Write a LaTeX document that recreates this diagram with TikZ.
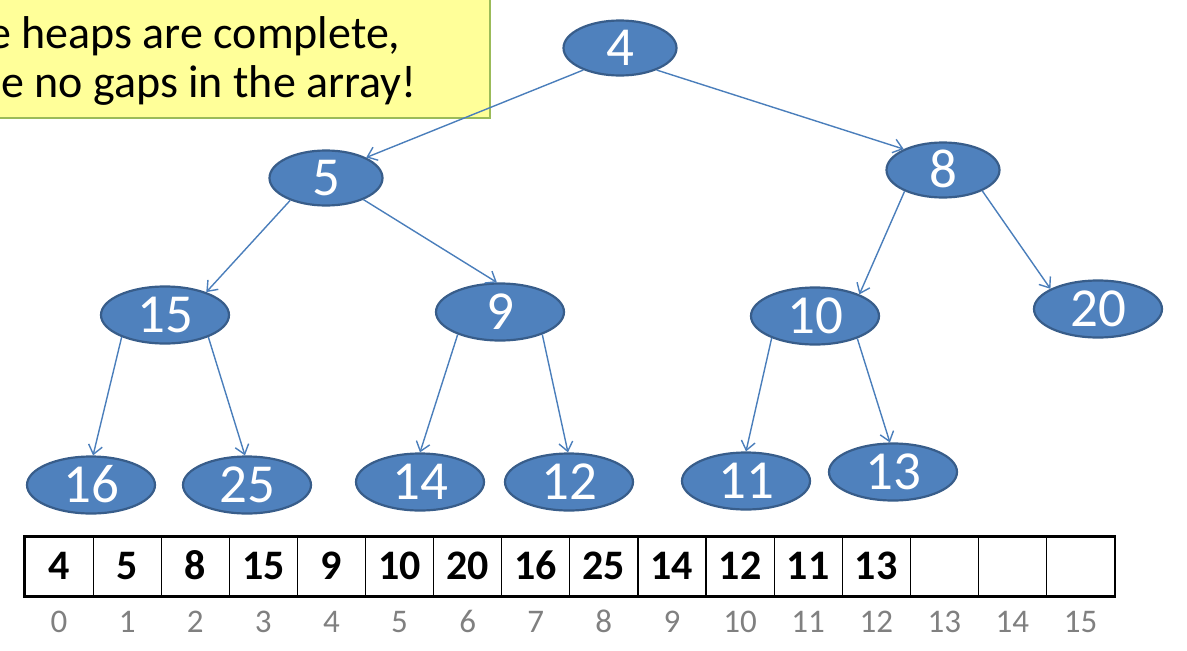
\documentclass[tikz,border=0pt]{standalone}
\usepackage{fontspec}
\setmainfont{Carlito}
\usetikzlibrary{shapes.geometric,arrows.meta}
\definecolor{nodefill}{HTML}{4F81BD}
\definecolor{nodeline}{HTML}{385D8A}
\definecolor{linkcol}{HTML}{4A7EBB}
\definecolor{notefill}{HTML}{FFFF99}
\definecolor{noteline}{HTML}{9BBB59}
\definecolor{idxgray}{HTML}{808080}
\begin{document}
\begin{tikzpicture}[x=1pt,y=-1pt,
  heapnode/.style={ellipse, fill=nodefill, draw=nodeline, line width=2.2pt,
    minimum width=128pt, minimum height=57pt, inner sep=0pt, text=white,
    text height=34.7pt, text depth=0pt,
    font=\fontsize{55}{55}\selectfont},
  upper/.style={heapnode, minimum width=113pt, minimum height=55pt},
  link/.style={draw=linkcol, line width=1.4pt, -{Straight Barb[length=9pt,width=14pt]}},
  cell/.style={draw=black, line width=1.2pt, minimum width=68.1pt, minimum height=59pt,
    inner sep=0pt, text height=26.5pt, text depth=0pt,
    font=\fontsize{42}{42}\selectfont\bfseries},
  idx/.style={anchor=base, inner sep=0pt, text=idxgray, font=\fontsize{33}{33}\selectfont},
  notetext/.style={anchor=base west, inner sep=0pt, font=\fontsize{46}{46}\selectfont},
]
\useasboundingbox (0,0) rectangle (1187,651);

% note box in the upper left corner
\draw[fill=notefill, draw=noteline, line width=1.3pt] (-20,-20) rectangle (490,118);
\node[notetext] (note1) at (-12,48) {e heaps are complete,};
\node[notetext] (note2) at (1,97) {e no gaps in the array!};

% heap tree
\node[upper] (n4) at (620,48) {4};
\node[upper] (n5) at (326,178) {5};
\node[upper] (n8) at (943,170) {8};
\node[heapnode] (n15) at (165,315) {15};
\node[heapnode] (n9) at (500,312) {9};
\node[heapnode] (n10) at (815,316) {10};
\node[heapnode] (n20) at (1098,309) {20};
\node[heapnode] (n16) at (91,485) {16};
\node[heapnode] (n25) at (247,485) {25};
\node[heapnode] (n14) at (420,482) {14};
\node[heapnode] (n12) at (569,482) {12};
\node[heapnode] (n11) at (746,481) {11};
\node[heapnode] (n13) at (893,472) {13};

\draw[link] (n4.211) -- (n5.27);
\draw[link] (n4.329) -- (n8.152);
\draw[link] (n5.212) -- (n15.29);
\draw[link] (n5.330) -- (n9.96);
\draw[link] (n8.209) -- (n10.26);
\draw[link] (n8.332) -- (n20.157);
\draw[link] (n15.207) -- (n16.86);
\draw[link] (n15.333) -- (n25.94);
\draw[link] (n9.208) -- (n14.90);
\draw[link] (n9.332) -- (n12.92);
\draw[link] (n10.207) -- (n11.90);
\draw[link] (n10.332) -- (n13.96);

% array with indices
\foreach \i/\v in {0/4,1/5,2/8,3/15,4/9,5/10,6/20,7/16,8/25,9/14,10/12,11/11,12/13,13/,14/,15/} {
  \node[cell] (c\i) at ({59.05+68.1*\i},566.5) {\v};
  \node[idx] (i\i) at ({59.05+68.1*\i},632) {\i};
}
\draw[line width=2pt] (c0.north west) rectangle (c15.south east);
\end{tikzpicture}
\end{document}
